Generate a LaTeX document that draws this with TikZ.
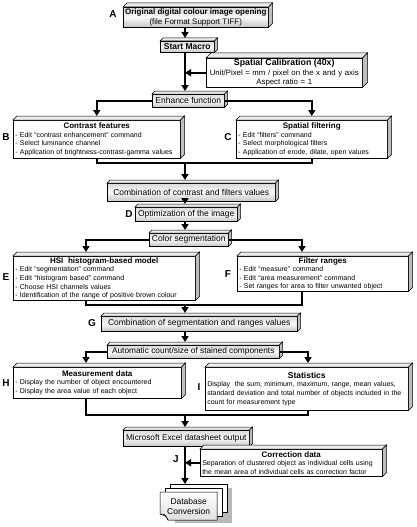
\documentclass[tikz,border=0pt]{standalone}
\usepackage{fontspec}
\setmainfont{Liberation Sans}
\usetikzlibrary{arrows.meta,positioning}
\tikzset{
    stepbox/.style = {rectangle, anchor=north west, inner sep=0pt, draw=black, line width=0.5pt, top color=gray!30, bottom color=gray!45, middle color=gray!5, font=\fontsize{8.5}{10}\selectfont},
    infobox/.style = {rectangle, anchor=north west, inner xsep=2pt, inner ysep=1pt, draw=black, line width=0.5pt, fill=white, align=left, font=\fontsize{7}{8.6}\selectfont},
    tag/.style = {font=\fontsize{10}{12}\selectfont\bfseries},
    link/.style = {line width=1.5pt},
    arrow/.style = {line width=1.5pt, -{Triangle[length=6pt,width=7pt]}},
    intobox/.style = {arrow, shorten >=#1},
    intobox/.default = 4pt
}
\newcommand{\boxtitle}[1]{{\centering\fontsize{8}{9.6}\selectfont\bfseries #1\par}}
\newcommand{\extrude}[2][4]{%
    \filldraw[line width=0.5pt, fill=gray!15] (#2.north west) -- ++(#1pt,#1pt) -- ([shift={(#1pt,#1pt)}]#2.north east) -- (#2.north east) -- cycle;
    \filldraw[line width=0.5pt, fill=gray!50] (#2.north east) -- ++(#1pt,#1pt) -- ([shift={(#1pt,#1pt)}]#2.south east) -- (#2.south east) -- cycle;
}

\begin{document}
\begin{tikzpicture}[x=1pt, y=-1pt]
\path[fill=white, use as bounding box] (0,0) rectangle (416,527);
\coordinate (col) at (185,0);
\coordinate (lft) at (86,0);
\coordinate (rgt) at (302,0);
\coordinate (rgti) at (308,0);

% main column
\node (a) [stepbox, minimum width=145pt, minimum height=20pt, align=center, font=\fontsize{8}{10}\selectfont] at (123,7) {\textbf{Original digital colour image opening}\\(file Format Support TIFF)};
\extrude{a}
\node (start) [stepbox, minimum width=54pt, minimum height=11pt, font=\fontsize{8.5}{10}\selectfont\bfseries] at (160,41) {Start Macro};
\extrude[3]{start}
\node (spatial) [infobox, align=center, inner xsep=0pt, text width=156pt, minimum height=29pt, font=\fontsize{7.8}{9.4}\selectfont] at (206,58) {\textbf{\fontsize{8.8}{9.4}\selectfont Spatial Calibration (40x)}\\Unit/Pixel = mm / pixel on the x and y axis\\Aspect ratio = 1};
\extrude[5]{spatial}
\node (enh) [stepbox, minimum width=72pt, minimum height=13pt] at (152,94) {Enhance function};
\extrude[3]{enh}

\node (B) [infobox, text width=163pt, minimum height=38pt] at (13,120) {\boxtitle{Contrast features}- Edit “contrast enhancement” command\\- Select luminance channel\\- Application of brightness-contrast-gamma values};
\extrude{B}
\node (C) [infobox, text width=147pt, minimum height=38pt] at (236,120) {\boxtitle{Spatial filtering}- Edit “filters” command\\- Select morphological filters\\- Application of erode, dilate, open values};
\extrude{C}

\node (comb) [stepbox, minimum width=168pt, minimum height=18pt] at (107,183) {Combination of contrast and filters values};
\extrude[3]{comb}
\node (opt) [stepbox, minimum width=102pt, minimum height=14pt] at (135,207) {Optimization of the image};
\extrude[3]{opt}
\node (colseg) [stepbox, minimum width=79pt, minimum height=13pt] at (149,233) {Color segmentation};
\extrude[3]{colseg}

\node (E) [infobox, text width=178pt, minimum height=44pt] at (13,256) {\boxtitle{HSI\ \ histogram-based model}- Edit “segmentation” command\\- Edit “histogram based” command\\- Choose HSI channels values\\- Identification of the range of positive brown colour};
\extrude{E}
\node (F) [infobox, text width=167pt, minimum height=35pt] at (237,256) {\boxtitle{Filter ranges}- Edit “measure” command\\- Edit “area measurement” command\\- Set ranges for area to filter unwanted object};
\extrude{F}

\node (G) [stepbox, minimum width=196pt, minimum height=15pt] at (101,316) {Combination of segmentation and ranges values};
\extrude[3]{G}
\node (auto) [stepbox, minimum width=172pt, minimum height=13pt, font=\fontsize{8.3}{10}\selectfont] at (107,345) {Automatic count/size of stained components};
\extrude[3]{auto}

\node (H) [infobox, text width=164pt, minimum height=31pt] at (13,367) {\boxtitle{Measurement data}- Display the number of object encountered\\- Display the area value of each object};
\extrude{H}
\node (I) [infobox, text width=199pt, minimum height=43pt] at (205,367) {{\centering\fontsize{8.5}{10}\selectfont\bfseries Statistics\par}Display\ \ the sum, minimum, maximum, range, mean values,\\standard deviation and total number of objects included in the\\count for measurement type};
\extrude{I}

\node (excel) [stepbox, minimum width=126pt, minimum height=16pt, font=\fontsize{8.3}{10}\selectfont] at (123,430) {Microsoft Excel datasheet output};
\extrude[3]{excel}
\node (corr) [infobox, text width=178pt, minimum height=27pt] at (200,449) {\boxtitle{Correction data}Separation of clustered object as individual cells using\\the mean area of individual cells as correction factor};
\extrude{corr}

% database stack
\coordinate (dbc) at (160,492);
\begin{scope}[shift={(dbc)}, line width=0.5pt]
\fill[gray!55] (15,-4) rectangle (72,31);
\filldraw[fill=white] (10,-8) rectangle (67,20);
\filldraw[fill=white] (5,-4) rectangle (62,24);
\filldraw[top color=white, bottom color=gray!25] (0,0) -- (57,0) -- (57,28) -- (8,28) .. controls (6,24) .. (0,22) -- cycle;
\draw (0,22) .. controls (5,22) .. (8,28);
\end{scope}
\node (db) [anchor=north west, minimum width=57pt, minimum height=28pt, inner sep=0pt, align=center, font=\fontsize{8.5}{10}\selectfont] at (dbc) {Database\\Conversion};
\coordinate (dbtop) at (185,484);

% letters
\node (tagA) [tag] at (113,14) {A};
\node (tagB) [tag] at (6,137) {B};
\node (tagC) [tag] at (228,137) {C};
\node (tagD) [tag] at (129,214) {D};
\node (tagE) [tag] at (6,277) {E};
\node (tagF) [tag] at (228,274) {F};
\node (tagG) [tag] at (92,323) {G};
\node (tagH) [tag] at (6,383) {H};
\node (tagI) [tag] at (199,387) {I};
\node (tagJ) [tag] at (176,459) {J};

% connectors
\draw [intobox=3pt] (a.south -| col) -- (start.north -| col);
\draw [intobox=3pt] (start.south -| col) -- (enh.north -| col);
\draw [arrow] (spatial.west) -- (spatial.west -| col);
\draw [intobox] (enh.west) -| (B.north);
\draw [intobox] (enh.east) -| (C.north);
\coordinate (bc) at (185,163);
\draw [link] (B.south) |- (bc) -| (C.south);
\draw [intobox=3pt] (bc) -- (comb.north -| bc);
\draw [intobox=3pt] (comb.south -| col) -- (opt.north -| col);
\draw [intobox=3pt] (opt.south -| col) -- (colseg.north -| col);
\draw [intobox] (colseg.west) -| (lft |- E.north);
\draw [intobox] (colseg.east) -| (rgt |- F.north);
\coordinate (ef) at (185,305);
\draw [link] (lft |- E.south) |- (ef) -| (rgt |- F.south);
\draw [intobox=3pt] (ef) -- (G.north -| ef);
\draw [intobox=3pt] (G.south -| col) -- (auto.north -| col);
\draw [intobox] (auto.west) -| (lft |- H.north);
\draw [intobox] (auto.east) -| (rgti |- I.north);
\coordinate (hi) at (185,415);
\draw [link] (lft |- H.south) |- (hi) -| (rgti |- I.south);
\draw [intobox=3pt] (hi) -- (excel.north -| hi);
\draw [arrow] (excel.south -| col) -- (dbtop);
\draw [arrow] (corr.west) -- (corr.west -| col);
\end{tikzpicture}
\end{document}
